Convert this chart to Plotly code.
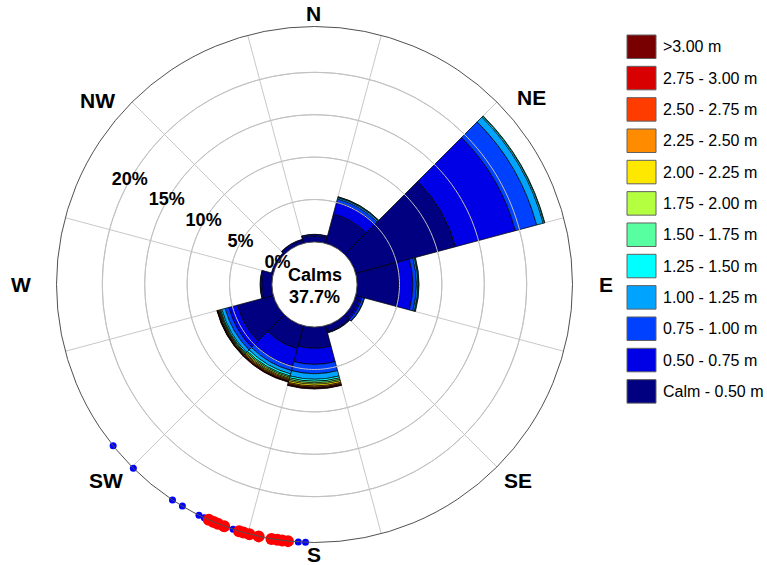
import plotly.graph_objects as go

# Direction sectors (degrees, clockwise from north), 30-degree bins
directions = [0, 30, 60, 90, 120, 150, 180, 210, 240, 270, 300, 330]

# Wave height classes and their colours (lowest first)
height_bins = ["Calm - 0.50 m", "0.50 - 0.75 m", "0.75 - 1.00 m", "1.00 - 1.25 m",
               "1.25 - 1.50 m", "1.50 - 1.75 m", "1.75 - 2.00 m", "2.00 - 2.25 m",
               "2.25 - 2.50 m", "2.50 - 2.75 m", "2.75 - 3.00 m", ">3.00 m"]
bin_colors = ["#000080", "#0000e6", "#0040ff", "#00a4ff", "#00ffff", "#58ffa0",
              "#b4ff40", "#ffe800", "#ff8c00", "#ff3c00", "#d80000", "#780000"]

# Frequency of occurrence (%) per direction sector, one list per height class
f_calm_050 = [0.70, 3.60, 12.20, 4.90, 0.55, 0.75, 2.50, 2.80, 4.40, 1.20, 0.25, 0.45]
f_050_075 = [0.15, 1.44, 7.30, 1.67, 0.25, 0.10, 1.90, 2.20, 1.05, 0.15, 0.00, 0.05]
f_075_100 = [0.05, 0.39, 2.60, 0.43, 0.25, 0.05, 1.10, 0.50, 0.45, 0.05, 0.00, 0.00]
f_100_125 = [0.00, 0.17, 0.80, 0.18, 0.05, 0.00, 0.65, 0.40, 0.40, 0.00, 0.00, 0.00]
f_125_150 = [0.00, 0.07, 0.15, 0.07, 0.00, 0.00, 0.23, 0.25, 0.15, 0.00, 0.00, 0.00]
f_150_175 = [0.00, 0.03, 0.05, 0.05, 0.00, 0.00, 0.19, 0.15, 0.10, 0.00, 0.00, 0.00]
f_175_200 = [0.00, 0.00, 0.00, 0.00, 0.00, 0.00, 0.17, 0.15, 0.07, 0.00, 0.00, 0.00]
f_200_225 = [0.00, 0.00, 0.00, 0.00, 0.00, 0.00, 0.20, 0.12, 0.08, 0.00, 0.00, 0.00]
f_225_250 = [0.00, 0.00, 0.00, 0.00, 0.00, 0.00, 0.13, 0.12, 0.07, 0.00, 0.00, 0.00]
f_250_275 = [0.00, 0.00, 0.00, 0.00, 0.00, 0.00, 0.10, 0.10, 0.05, 0.00, 0.00, 0.00]
f_275_300 = [0.00, 0.00, 0.00, 0.00, 0.00, 0.00, 0.08, 0.06, 0.04, 0.00, 0.00, 0.00]
f_gt_300 = [0.00, 0.00, 0.00, 0.00, 0.00, 0.00, 0.05, 0.06, 0.04, 0.00, 0.00, 0.00]

calms_pct = 37.7

# Radial scale
r_max = 25.4
ring_values = [0, 5, 10, 15, 20]
ring_labels = ["0%", "5%", "10%", "15%", "20%"]

# Event directions marked on the rim
rim_small_dirs = [231.3, 224.6, 213.4, 210.8, 206.6, 205.3, 198.4, 183.6, 182.0]
rim_large_dirs = [204.2, 203.0, 202.0, 200.5, 197.0, 196.0, 194.6, 192.5,
                  189.6, 188.3, 187.2, 185.9]

compass_labels = ["N", "NE", "E", "SE", "S", "SW", "W", "NW"]
compass_pos = [(313.3, 13), (531.3, 97.5), (605.5, 284.2), (518, 481),
               (314, 554), (106, 480.8), (20.8, 284.2), (97, 100)]

W, H = 767, 565
FONT = "Liberation Sans, Arial, sans-serif"

series = [f_calm_050, f_050_075, f_075_100, f_100_125, f_125_150, f_150_175,
          f_175_200, f_200_225, f_225_250, f_250_275, f_275_300, f_gt_300]

fig = go.Figure()
for name, color, vals in zip(height_bins, bin_colors, series):
    fig.add_trace(go.Barpolar(
        r=vals, theta=directions, width=[30] * len(directions), name=name,
        marker=dict(color=color, line=dict(color="black", width=0.7)),
        showlegend=False,
    ))

# Percentage rings repeated on top of the bars so they stay visible
circle_theta = list(range(0, 361, 2))
for rv in ring_values[1:]:
    fig.add_trace(go.Scatterpolar(
        r=[rv] * len(circle_theta), theta=circle_theta, mode="lines",
        line=dict(color="#c0c0c0", width=1), showlegend=False,
        hoverinfo="skip",
    ))

# Ring labels along the NW-ish spoke
fig.add_trace(go.Scatterpolar(
    r=ring_values, theta=[299.5] * len(ring_values), text=ring_labels,
    mode="text", textposition="middle center",
    textfont=dict(family=FONT, size=18, color="black", weight="bold"),
    showlegend=False, hoverinfo="skip", cliponaxis=False,
))

# Event markers on the rim
fig.add_trace(go.Scatterpolar(
    r=[r_max] * len(rim_small_dirs), theta=rim_small_dirs, mode="markers",
    marker=dict(color="#0000ff", size=7), showlegend=False, cliponaxis=False,
))
fig.add_trace(go.Scatterpolar(
    r=[r_max] * len(rim_large_dirs), theta=rim_large_dirs, mode="markers",
    marker=dict(color="#ff0000", size=12), showlegend=False, cliponaxis=False,
))

cx, cy, R = 314.5, 284.5, 258
fig.update_layout(
    width=W, height=H, autosize=False,
    margin=dict(l=0, r=0, t=0, b=0),
    paper_bgcolor="white", plot_bgcolor="white",
    font=dict(family=FONT, color="black"),
    polar=dict(
        domain=dict(x=[(cx - R) / W, (cx + R) / W],
                    y=[(H - cy - R) / H, (H - cy + R) / H]),
        hole=0.165,
        bgcolor="white",
        barmode="stack",
        angularaxis=dict(rotation=90, direction="clockwise",
                         tickmode="array", tickvals=list(range(15, 360, 30)),
                         showticklabels=False, ticks="",
                         gridcolor="#c8c8c8", gridwidth=1,
                         showline=True, linecolor="#505050", linewidth=1,
                         layer="above traces"),
        radialaxis=dict(range=[0, r_max], tickmode="array", tickvals=ring_values,
                        showticklabels=False, ticks="", showline=False,
                        gridcolor="#c8c8c8", gridwidth=1,
                        layer="above traces"),
    ),
)

annotations = []
# Calm percentage in the centre
annotations.append(dict(x=cx / W, y=1 - 275 / H, xref="paper", yref="paper",
                        text="<b>Calms</b>", showarrow=False,
                        font=dict(size=18, family=FONT, color="black")))
annotations.append(dict(x=cx / W, y=1 - 296.5 / H, xref="paper", yref="paper",
                        text="<b>%.1f%%</b>" % calms_pct, showarrow=False,
                        font=dict(size=18, family=FONT, color="black")))
# Compass labels
for lab, (px, py) in zip(compass_labels, compass_pos):
    annotations.append(dict(x=px / W, y=1 - py / H, xref="paper", yref="paper",
                            text="<b>%s</b>" % lab, showarrow=False,
                            xanchor="center", yanchor="middle",
                            font=dict(size=21, family=FONT, color="black")))

# Legend: colour boxes with class names, highest class on top
shapes = []
box_x0, box_x1 = 627, 656
top0, pitch, box_h = 35, 31.33, 23.5
for i, (name, color) in enumerate(zip(height_bins[::-1], bin_colors[::-1])):
    y0 = top0 + i * pitch
    shapes.append(dict(type="rect", xref="paper", yref="paper",
                       x0=box_x0 / W, x1=box_x1 / W,
                       y0=1 - (y0 + box_h) / H, y1=1 - y0 / H,
                       fillcolor=color, line=dict(color="#606060", width=1)))
    annotations.append(dict(x=661 / W, y=1 - (y0 + box_h / 2) / H,
                            xref="paper", yref="paper", text=name,
                            showarrow=False, xanchor="left", yanchor="middle",
                            font=dict(size=16, family=FONT, color="black")))

fig.update_layout(shapes=shapes, annotations=annotations)
fig.write_html("out.html")
